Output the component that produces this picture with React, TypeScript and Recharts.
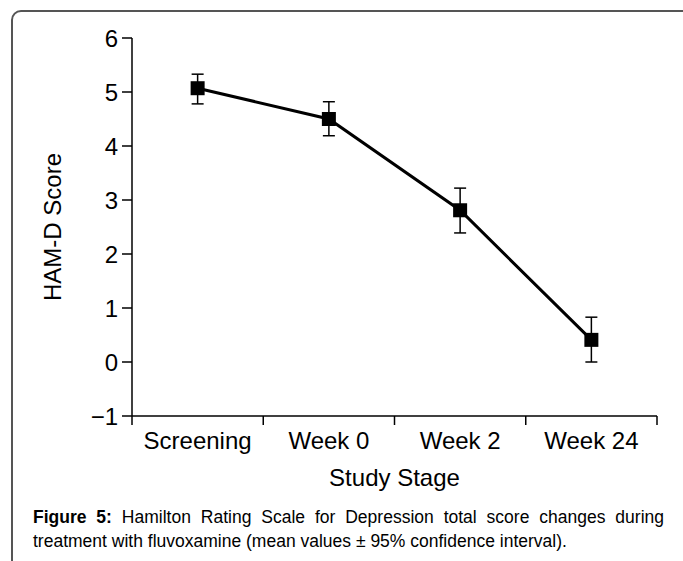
import React from 'react';
import { LineChart, Line, XAxis, YAxis, ErrorBar, Label } from 'recharts';

const categories = ['Screening', 'Week 0', 'Week 2', 'Week 24'];
const meanScores = [5.07, 4.5, 2.81, 0.41];
const ciLower = [4.78, 4.19, 2.39, 0.0];
const ciUpper = [5.33, 4.82, 3.22, 0.83];
const yTicks = [-1, 0, 1, 2, 3, 4, 5, 6];
const boundaryTicks = [0, 1, 2, 3, 4];
const centerTicks = [0.5, 1.5, 2.5, 3.5];

const data = categories.map((name, i) => ({
  pos: i + 0.5,
  name,
  mean: meanScores[i],
  err: [meanScores[i] - ciLower[i], ciUpper[i] - meanScores[i]],
}));

const FONT = '"Liberation Sans", Arial, Helvetica, sans-serif';

const SquareDot = (props: any) => {
  const { cx, cy } = props;
  if (cx == null || cy == null) return null;
  return <rect x={cx - 7} y={cy - 7} width={14} height={14} fill="#000" />;
};

const fmtY = (v: number) => (v < 0 ? '\u2212' + Math.abs(v) : String(v));

export default function App() {
  return (
    <div style={{ position: 'absolute', left: 0, top: 0, width: 683, height: 561, overflow: 'hidden', background: '#fff', fontFamily: FONT }}>
      <div
        style={{
          position: 'absolute',
          left: 11,
          top: 10,
          width: 700,
          height: 600,
          border: '2px solid #555',
          borderTopLeftRadius: 10,
          boxSizing: 'border-box',
        }}
      />
      <div style={{ position: 'absolute', left: 0, top: 0 }}>
        <LineChart width={683} height={500} data={data} margin={{ top: 38, right: 26, left: 0, bottom: 12 }}>
          <YAxis
            type="number"
            domain={[-1, 6]}
            ticks={yTicks}
            tickFormatter={fmtY}
            width={132}
            tickSize={10}
            tickMargin={4}
            stroke="#000"
            strokeWidth={1.5}
            tick={{ fill: '#000', fontSize: 24, fontFamily: FONT }}
          >
            <Label
              value="HAM-D Score"
              angle={-90}
              position="insideLeft"
              offset={52}
              style={{ textAnchor: 'middle', fill: '#000', fontSize: 24, fontFamily: FONT }}
            />
          </YAxis>
          <XAxis
            xAxisId="bounds"
            type="number"
            dataKey="pos"
            domain={[0, 4]}
            ticks={boundaryTicks}
            tickFormatter={() => ''}
            height={1}
            tickSize={9}
            stroke="#000"
            strokeWidth={1.5}
          />
          <XAxis
            xAxisId="labels"
            type="number"
            dataKey="pos"
            domain={[0, 4]}
            ticks={centerTicks}
            tickFormatter={(v: number) => categories[Math.floor(v)]}
            height={71}
            axisLine={false}
            tickLine={false}
            tickSize={9}
            tickMargin={6}
            tick={{ fill: '#000', fontSize: 24, fontFamily: FONT }}
          >
            <Label
              value="Study Stage"
              position="insideBottom"
              offset={2}
              style={{ fill: '#000', fontSize: 24, fontFamily: FONT }}
            />
          </XAxis>
          <Line
            xAxisId="bounds"
            type="linear"
            dataKey="mean"
            stroke="#000"
            strokeWidth={3}
            dot={<SquareDot />}
            activeDot={false}
            isAnimationActive={false}
          >
            <ErrorBar dataKey="err" direction="y" width={6} stroke="#000" strokeWidth={1.5} />
          </Line>
        </LineChart>
      </div>
      <div
        style={{
          position: 'absolute',
          left: 33,
          top: 505,
          width: 631,
          fontSize: 17.5,
          lineHeight: '24px',
          textAlign: 'justify',
          textAlignLast: 'left',
          color: '#000',
          fontFamily: FONT,
        }}
      >
        <b>Figure 5:</b> Hamilton Rating Scale for Depression total score changes during treatment with fluvoxamine (mean values ± 95% confidence interval).
      </div>
    </div>
  );
}
